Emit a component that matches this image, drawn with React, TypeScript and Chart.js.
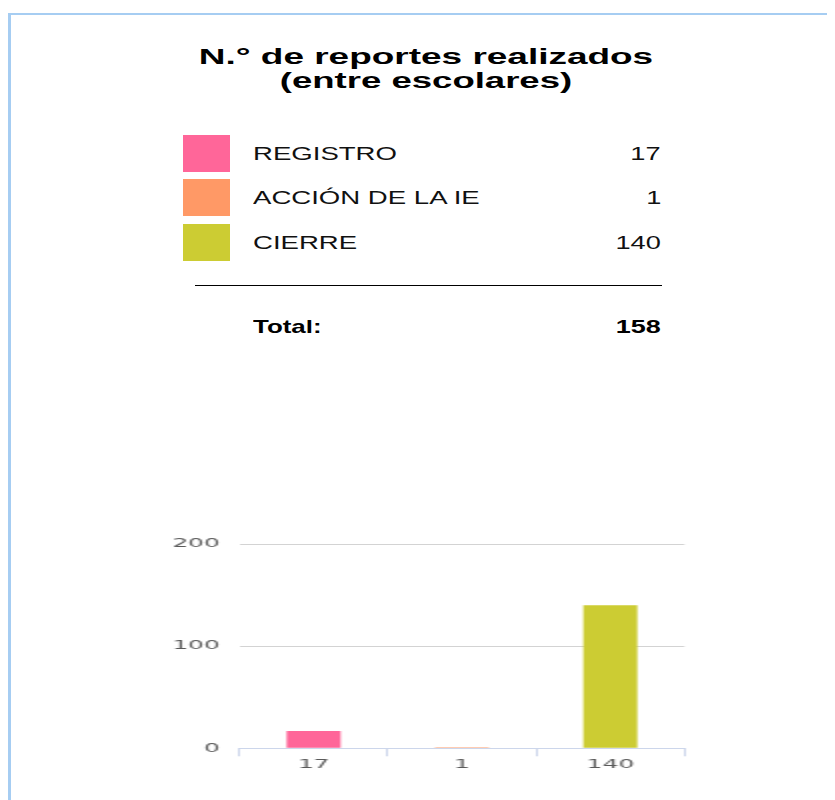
import React, { useEffect, useRef } from "react";
import { Chart, registerables } from "chart.js";

Chart.register(...registerables);

// ---- data ----
const titleLines = ["N.° de reportes realizados", "(entre escolares)"];
const categories = ["REGISTRO", "ACCIÓN DE LA IE", "CIERRE"];
const values = [17, 1, 140];
const colors = ["#FF6699", "#FF9966", "#CCCC33"];
const xTickLabels = ["17", "1", "140"];
const yMin = 0;
const yMax = 200;
const yStep = 100;
const totalLabel = "Total:";
const totalValue = "158";

// ---- layout helpers ----
const OX = 8;
const OY = 8;
const CW = 827;
const CH = 792;
const FONT = "'Liberation Sans', Arial, Helvetica, sans-serif";

type TxtProps = {
  x: number;
  top: number;
  size: number;
  sx: number;
  align: "left" | "right" | "center";
  bold?: boolean;
  color?: string;
  children: string;
};

function Txt({ x, top, size, sx, align, bold, color, children }: TxtProps) {
  const style: React.CSSProperties = {
    position: "absolute",
    top: top - OY,
    fontFamily: FONT,
    fontSize: size,
    lineHeight: `${size}px`,
    fontWeight: bold ? 700 : 400,
    whiteSpace: "nowrap",
    color: color || "#000",
  };
  if (align === "left") {
    style.left = x - OX;
    style.transformOrigin = "left center";
    style.transform = `scaleX(${sx})`;
  } else if (align === "right") {
    style.right = CW - (x - OX);
    style.transformOrigin = "right center";
    style.transform = `scaleX(${sx})`;
  } else {
    style.left = x - OX;
    style.transform = `translateX(-50%) scaleX(${sx})`;
  }
  return <span style={style}>{children}</span>;
}

const STRETCH = 2;
const CANVAS_LEFT = 140;
const CANVAS_TOP = 520;
const CANVAS_W = 560;
const CANVAS_H = 270;

function BarChart() {
  const ref = useRef<HTMLCanvasElement | null>(null);
  useEffect(() => {
    if (!ref.current) return;
    const tickFont = { family: "'DejaVu Sans', Verdana, sans-serif", size: 12.5 };
    const chart = new Chart(ref.current, {
      type: "bar",
      data: {
        labels: xTickLabels,
        datasets: [
          {
            label: "Reportes",
            data: values,
            backgroundColor: colors,
            borderWidth: 0,
            barPercentage: 0.364,
            categoryPercentage: 1,
          },
        ],
      },
      options: {
        responsive: false,
        animation: false,
        devicePixelRatio: 1,
        layout: { padding: { left: 0, right: 7.75, top: 24, bottom: 0 } },
        plugins: {
          legend: { display: false },
          tooltip: { enabled: false },
          title: { display: false },
        },
        scales: {
          x: {
            offset: true,
            grid: {
              offset: true,
              drawOnChartArea: false,
              drawTicks: true,
              tickLength: 8,
              color: "#ccd6eb",
              lineWidth: 1,
            },
            border: { display: true, color: "#ccd6eb", width: 1, z: 1 },
            ticks: {
              color: "#5a5a5a",
              font: tickFont,
              padding: 1,
              maxRotation: 0,
              autoSkip: false,
            },
            afterFit: (s: any) => {
              s.height = 41.7;
            },
          },
          y: {
            min: yMin,
            max: yMax,
            ticks: {
              stepSize: yStep,
              color: "#5a5a5a",
              font: tickFont,
              padding: 9.75,
            },
            grid: { color: "#d3d3d3", drawTicks: false, lineWidth: 1 },
            border: { display: false },
            afterFit: (s: any) => {
              s.width = 49.75;
            },
          },
        },
      },
    });
    return () => chart.destroy();
  }, []);
  return (
    <canvas
      ref={ref}
      width={CANVAS_W / STRETCH}
      height={CANVAS_H}
      style={{
        position: "absolute",
        left: CANVAS_LEFT - OX,
        top: CANVAS_TOP - OY,
        width: `${CANVAS_W}px`,
        height: `${CANVAS_H}px`,
      }}
    />
  );
}

const legendTops = [144.8, 189.3, 233.7];
const squareTops = [134.5, 179.3, 224];

export default function App() {
  return (
    <div
      style={{
        position: "relative",
        width: CW,
        height: CH,
        overflow: "hidden",
        background: "#fff",
      }}
    >
      <div
        style={{
          position: "absolute",
          left: 0,
          top: 13 - OY,
          width: 900,
          height: 900,
          borderLeft: "3px solid #a6cdf2",
          borderTop: "2px solid #a6cdf2",
          boxSizing: "border-box",
        }}
      />
      <Txt x={426} top={46.4} size={22} sx={1.68} align="center" bold>
        {titleLines[0]}
      </Txt>
      <Txt x={426} top={69.7} size={22} sx={1.66} align="center" bold>
        {titleLines[1]}
      </Txt>
      {categories.map((c, i) => (
        <React.Fragment key={c}>
          <div
            style={{
              position: "absolute",
              left: 183 - OX,
              top: squareTops[i] - OY,
              width: 47,
              height: 37,
              background: colors[i],
            }}
          />
          <Txt x={253} top={legendTops[i]} size={18.5} sx={1.49} align="left" color="#111">
            {c}
          </Txt>
          <Txt x={661} top={legendTops[i]} size={18.5} sx={1.47} align="right" color="#111">
            {String(values[i])}
          </Txt>
        </React.Fragment>
      ))}
      <div
        style={{
          position: "absolute",
          left: 195 - OX,
          top: 284.5 - OY,
          width: 467,
          height: 1.5,
          background: "#000",
        }}
      />
      <Txt x={253} top={318.4} size={18.5} sx={1.4} align="left" bold>
        {totalLabel}
      </Txt>
      <Txt x={661} top={318.4} size={18.5} sx={1.46} align="right" bold>
        {totalValue}
      </Txt>
      <BarChart />
    </div>
  );
}
